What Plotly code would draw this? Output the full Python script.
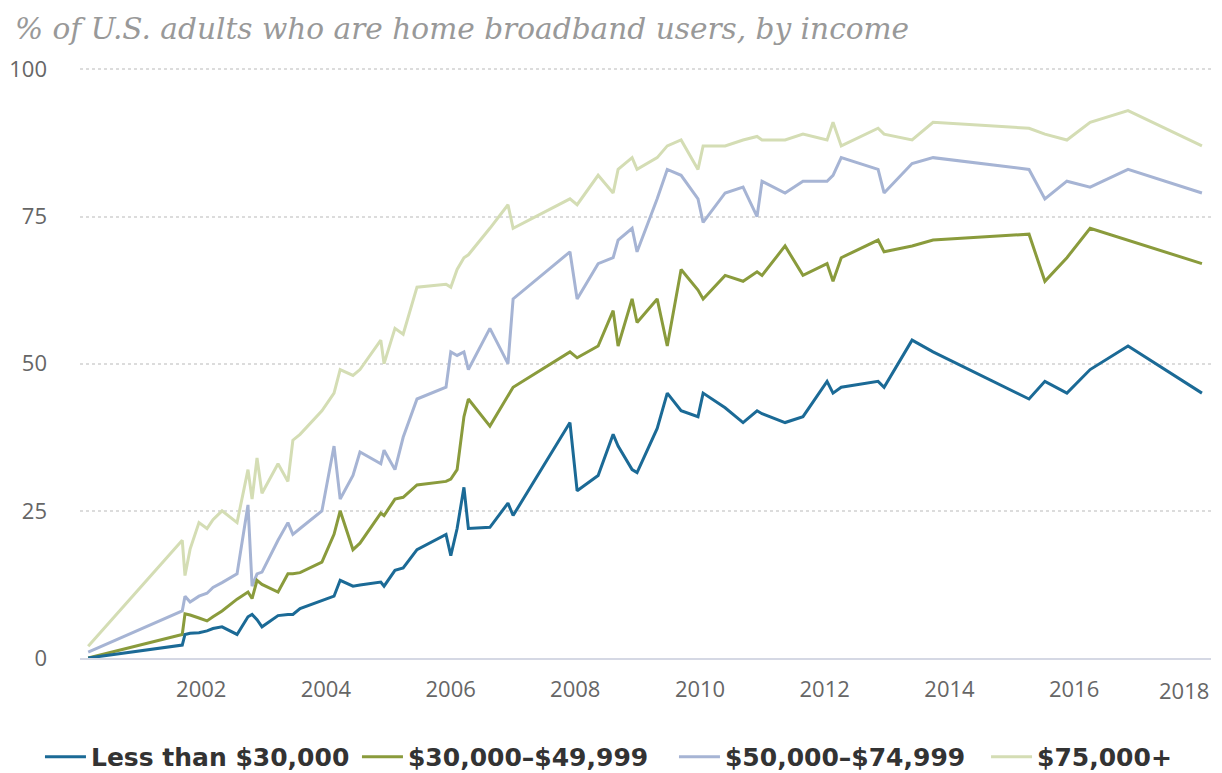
import plotly.graph_objs as go

# survey dates (shared by all four income groups)
dates = [
    "2000-03-10", "2001-09-12", "2001-09-28", "2001-10-28", "2001-12-19",
    "2002-02-04", "2002-03-11", "2002-05-03", "2002-07-30", "2002-10-02",
    "2002-10-26", "2002-11-24", "2002-12-23", "2003-03-27", "2003-05-24",
    "2003-06-22", "2003-08-03", "2003-12-09", "2004-02-18", "2004-03-25",
    "2004-06-08", "2004-07-19", "2004-11-18", "2004-12-07", "2005-02-09",
    "2005-03-29", "2005-06-18", "2005-12-05", "2006-01-02", "2006-02-08",
    "2006-03-20", "2006-04-15", "2006-08-19", "2006-12-03", "2007-01-02",
    "2007-12-01", "2008-01-12", "2008-05-14", "2008-08-10", "2008-09-08",
    "2008-11-29", "2008-12-28", "2009-04-25", "2009-06-23", "2009-09-12",
    "2009-12-20", "2010-01-19", "2010-05-28", "2010-09-10", "2010-12-01",
    "2010-12-30", "2011-05-14", "2011-08-27", "2012-01-15", "2012-02-19",
    "2012-04-07", "2012-11-09", "2012-12-14", "2013-05-27", "2013-09-27",
    "2015-04-12", "2015-07-14", "2015-11-20", "2016-04-04", "2016-11-12",
    "2018-01-19",
]

less_30k = [
    0, 2.2, 4, 4.2, 4.3, 4.6, 5, 5.3, 4, 7,
    7.4, 6.5, 5.3, 7.2, 7.4, 7.4, 8.4, 9.8, 10.5, 13.2,
    12.2, 12.4, 12.9, 12.2, 14.9, 15.3, 18.4, 21, 17.4, 22,
    29, 22, 22.2, 26.3, 24.2, 40, 28.4, 31, 38, 36,
    32, 31.5, 39, 45, 42, 41, 45, 42.5, 40, 42,
    41.5, 40, 41, 47, 45, 46, 47, 46, 54, 52,
    44, 47, 45, 49, 53, 45,
]
inc_30_50k = [
    0, 4, 7.5, 7.3, 6.8, 6.3, 7, 8, 10, 11.2,
    10.1, 13.2, 12.5, 11.2, 14.3, 14.3, 14.5, 16.3, 21, 25,
    18.4, 19.5, 24.6, 24.2, 27, 27.3, 29.4, 30, 30.4, 32,
    41, 44, 39.4, 44.5, 46, 52, 51, 53, 59, 53,
    61, 57, 61, 53, 66, 62.5, 61, 65, 64, 65.6,
    65, 70, 65, 67, 64, 68, 71, 69, 70, 71,
    72, 64, 68, 73, 71, 67,
]
inc_50_75k = [
    1, 8, 10.5, 9.5, 10.5, 11, 12, 12.8, 14.3, 26,
    12.2, 14.3, 14.6, 20, 23, 21, 22, 25, 36, 27,
    31, 35, 33, 35.3, 32, 37.5, 44, 46, 52, 51.4,
    52, 49, 56, 50, 61, 69, 61, 67, 68, 71,
    73, 69, 78, 83, 82, 78, 74, 79, 80, 75,
    81, 79, 81, 81, 82, 85, 83, 79, 84, 85,
    83, 78, 81, 80, 83, 79,
]
inc_75k_plus = [
    2, 20, 14, 18.5, 23, 22, 23.5, 25, 23, 32,
    27, 34, 28, 33, 30, 37, 38, 42, 45, 49,
    48, 49, 54, 50, 56, 55, 63, 63.5, 63, 66,
    68, 68.5, 73, 77, 73, 78, 77, 82, 79, 83,
    85, 83, 85, 87, 88, 83, 87, 87, 88, 88.6,
    88, 88, 89, 88, 91, 87, 90, 89, 88, 91,
    90, 89, 88, 91, 93, 87,
]

series_names = ["Less than $30,000", "$30,000\u2013$49,999", "$50,000\u2013$74,999", "$75,000+"]
series_values = [less_30k, inc_30_50k, inc_50_75k, inc_75k_plus]
colors = ["#1b6a96", "#8a9b3c", "#a6b4d4", "#d4ddb4"]
# the last entry goes in its own legend box so the wide, evenly spaced row fits
legend_ids = ["legend", "legend", "legend", "legend2"]

tick_years = ["2002", "2004", "2006", "2008", "2010", "2012", "2014", "2016", "2018"]
y_ticks = [0, 25, 50, 75, 100]

tick_font = dict(family="Open Sans", size=22, color="#666666")
legend_font = dict(family="DejaVu Sans", size=25, color="#333333", weight="bold")

fig = go.Figure()
# draw light lines first so the darker ones sit on top
for name, vals, col, leg in reversed(list(zip(series_names, series_values, colors, legend_ids))):
    fig.add_trace(
        go.Scatter(
            x=dates,
            y=vals,
            mode='lines',
            name=name,
            legend=leg,
            line=dict(color=col, width=3),
        )
    )

# last year label sits at the right edge of the plot (justified, like the original)
fig.add_annotation(
    text=tick_years[-1],
    xref='paper', x=1.0, xanchor='right',
    yref='paper', y=-0.054, yanchor='middle',
    showarrow=False,
    font=tick_font,
)

# page body adds an 8px margin, so the figure is 8px smaller than the window
fig.update_layout(
    width=1214,
    height=765,
    template='simple_white',
    paper_bgcolor='white',
    plot_bgcolor='white',
    margin=dict(l=72, r=11, t=59, b=115, autoexpand=False),
    title=dict(
        text="% of U.S. adults who are home broadband users, by income",
        font=dict(family="DejaVu Serif", size=29.6, color="#999999", style="italic"),
        xref='container', x=7 / 1214, xanchor='left',
        yref='container', y=1 - 21 / 765, yanchor='middle',
    ),
    legend=dict(
        orientation='h',
        traceorder='reversed',
        x=-0.0354, xanchor='left',
        y=-0.1675, yanchor='middle',
        font=legend_font,
        itemwidth=41,
        entrywidthmode='pixels',
        entrywidth=261,
    ),
    legend2=dict(
        orientation='h',
        x=0.8011, xanchor='left',
        y=-0.1675, yanchor='middle',
        font=legend_font,
        itemwidth=41,
    ),
    xaxis=dict(
        type='date',
        range=["2000-01-22", "2018-03-13"],
        tickvals=[y + "-01-01" for y in tick_years[:-1]],
        ticktext=tick_years[:-1],
        showline=True, linecolor="#d5d8e4", linewidth=2,
        ticks='', showgrid=False,
        tickfont=tick_font,
        ticklabelstandoff=11,
    ),
    yaxis=dict(
        range=[0, 100.4],
        tickvals=y_ticks,
        showline=False, ticks='',
        showgrid=True, gridcolor="#dcdcdc", griddash='dot', gridwidth=2,
        zeroline=False,
        tickfont=tick_font,
        ticklabelstandoff=32,
    ),
    showlegend=True,
)

fig.write_html("out.html")
